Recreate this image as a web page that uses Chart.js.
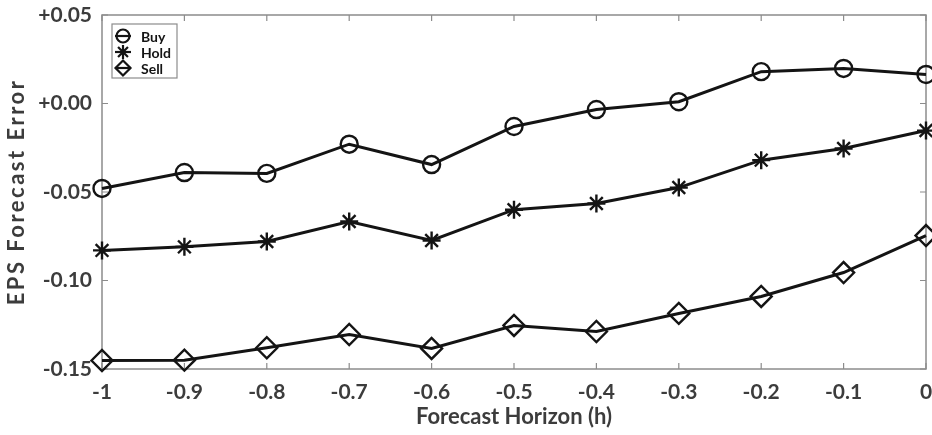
<!DOCTYPE html>
<html><head><meta charset="utf-8">
<script src="https://cdn.jsdelivr.net/npm/chart.js@4/dist/chart.umd.min.js"></script>
<style>html,body{margin:0;padding:0;background:#fff;}#wrap{width:932px;height:435px;}</style>
</head><body><div id="wrap"><canvas id="c" width="932" height="435"></canvas></div>
<script>
const horizons = [-1, -0.9, -0.8, -0.7, -0.6, -0.5, -0.4, -0.3, -0.2, -0.1, 0];
const buyErr  = [-0.048, -0.039, -0.0395, -0.023, -0.0345, -0.013, -0.0034, 0.001, 0.018, 0.0198, 0.0164];
const holdErr = [-0.083, -0.081, -0.078, -0.0667, -0.0774, -0.060, -0.0565, -0.0475, -0.032, -0.0254, -0.0153];
const sellErr = [-0.1452, -0.145, -0.138, -0.1305, -0.1384, -0.1254, -0.1288, -0.1186, -0.109, -0.0955, -0.0746];
const seriesNames = ['Buy', 'Hold', 'Sell'];
const xTickLabels = ['-1', '-0.9', '-0.8', '-0.7', '-0.6', '-0.5', '-0.4', '-0.3', '-0.2', '-0.1', '0'];
const yTickValues = [-0.15, -0.10, -0.05, 0, 0.05];
const yTickLabels = ['-0.15', '-0.10', '-0.05', '+0.00', '+0.05'];
const xTitle = 'Forecast Horizon (h)';
const yTitle = 'EPS Forecast Error';

const FONT = 'Lato, "Open Sans", "DejaVu Sans", sans-serif';
const TXT = '#3c3c3c';
const FRAME = '#8c8c8c';
const INK = '#141414';

function nearestIdx(arr, v) {
  let b = 0, d = Infinity;
  arr.forEach((a, i) => { const dd = Math.abs(a - v); if (dd < d) { d = dd; b = i; } });
  return b;
}
function pts(ys) { return horizons.map((x, i) => ({x: x, y: ys[i]})); }

const legendRadius = {circle: 6.5, star: 7, rectRot: 7.5};

const framePlugin = {
  id: 'frame',
  beforeDatasetsDraw(chart) {
    const ctx = chart.ctx, ca = chart.chartArea;
    const xs = chart.scales.x, ys = chart.scales.y;
    ctx.save();
    ctx.strokeStyle = FRAME;
    ctx.lineWidth = 1.5;
    ctx.strokeRect(ca.left, ca.top, ca.right - ca.left, ca.bottom - ca.top);
    ctx.lineWidth = 1.2;
    const L = 6;
    ctx.beginPath();
    xs.ticks.forEach(t => {
      const px = xs.getPixelForValue(t.value);
      ctx.moveTo(px, ca.bottom); ctx.lineTo(px, ca.bottom - L);
      ctx.moveTo(px, ca.top); ctx.lineTo(px, ca.top + L);
    });
    ys.ticks.forEach(t => {
      const py = ys.getPixelForValue(t.value);
      ctx.moveTo(ca.left, py); ctx.lineTo(ca.left + L, py);
      ctx.moveTo(ca.right, py); ctx.lineTo(ca.right - L, py);
    });
    ctx.stroke();
    // rotated y-axis title
    ctx.save();
    ctx.translate(17, (ca.top + ca.bottom) / 2);
    ctx.rotate(-Math.PI / 2);
    ctx.font = 'bold 22px ' + FONT;
    try { ctx.letterSpacing = '2.5px'; } catch (e) {}
    ctx.fillStyle = TXT;
    ctx.textAlign = 'center';
    ctx.textBaseline = 'middle';
    ctx.fillText(yTitle, 0, 0);
    ctx.restore();
    ctx.restore();
  },
  afterDraw(chart) {
    const ctx = chart.ctx, ca = chart.chartArea;
    const bx = ca.left + 10, by = ca.top + 9, bw = 65, bh = 54;
    ctx.save();
    ctx.fillStyle = '#fff';
    ctx.fillRect(bx, by, bw, bh);
    ctx.strokeStyle = FRAME;
    ctx.lineWidth = 1.2;
    ctx.strokeRect(bx, by, bw, bh);
    ctx.font = 'bold 14px ' + FONT;
    ctx.textBaseline = 'middle';
    ctx.textAlign = 'left';
    chart.data.datasets.forEach((ds, i) => {
      const cy = by + 12 + i * 16;
      const cx = bx + 11;
      ctx.strokeStyle = INK;
      ctx.lineWidth = 2.2;
      ctx.beginPath(); ctx.moveTo(cx - 8, cy); ctx.lineTo(cx + 8, cy); ctx.stroke();
      if (Chart.helpers && Chart.helpers.drawPoint) {
        ctx.fillStyle = 'rgba(0,0,0,0)';
        ctx.lineWidth = 2.2;
        Chart.helpers.drawPoint(ctx, {pointStyle: ds.pointStyle, radius: legendRadius[ds.pointStyle], borderWidth: 2.2, rotation: 0}, cx, cy);
      }
      ctx.fillStyle = INK;
      ctx.fillText(ds.label, bx + 29, cy + 1);
    });
    ctx.restore();
  }
};

const common = {
  borderColor: INK, borderWidth: 3, pointBorderColor: INK, pointBackgroundColor: 'rgba(0,0,0,0)',
  pointBorderWidth: 2.4, clip: false, tension: 0, fill: false
};

new Chart(document.getElementById('c'), {
  type: 'line',
  data: {
    datasets: [
      Object.assign({label: seriesNames[0], data: pts(buyErr), pointStyle: 'circle', pointRadius: 8.5}, common),
      Object.assign({label: seriesNames[1], data: pts(holdErr), pointStyle: 'star', pointRadius: 9}, common),
      Object.assign({label: seriesNames[2], data: pts(sellErr), pointStyle: 'rectRot', pointRadius: 10.5}, common)
    ]
  },
  options: {
    responsive: false,
    animation: false,
    layout: {autoPadding: false, padding: {top: 15, right: 6, left: 0, bottom: 0}},
    plugins: {
      tooltip: {enabled: false},
      legend: {display: false}
    },
    scales: {
      x: {
        type: 'linear', min: -1, max: 0,
        afterFit(s) { s.height = 66; s.paddingLeft = 0; s.paddingRight = 0; },
        afterBuildTicks(s) { s.ticks = horizons.map(v => ({value: v})); },
        grid: {display: false, drawTicks: true, tickLength: 11}, border: {display: false},
        ticks: {
          padding: 0, color: TXT, maxRotation: 0, autoSkip: false,
          font: {family: FONT, size: 21, weight: 'bold'},
          callback: (v) => xTickLabels[nearestIdx(horizons, v)]
        },
        title: {display: true, text: xTitle, color: TXT,
          font: {family: FONT, size: 22, weight: 'bold'}, padding: {top: 0, bottom: 5}}
      },
      y: {
        type: 'linear', min: -0.15, max: 0.05,
        afterFit(s) { s.width = 102; s.paddingTop = 0; s.paddingBottom = 0; },
        afterBuildTicks(s) { s.ticks = yTickValues.map(v => ({value: v})); },
        grid: {display: false, drawTicks: true, tickLength: 10}, border: {display: false},
        ticks: {
          padding: 0, color: TXT,
          font: {family: FONT, size: 21, weight: 'bold'},
          callback: (v) => yTickLabels[nearestIdx(yTickValues, v)]
        },
        title: {display: false}
      }
    }
  },
  plugins: [framePlugin]
});
</script></body></html>
